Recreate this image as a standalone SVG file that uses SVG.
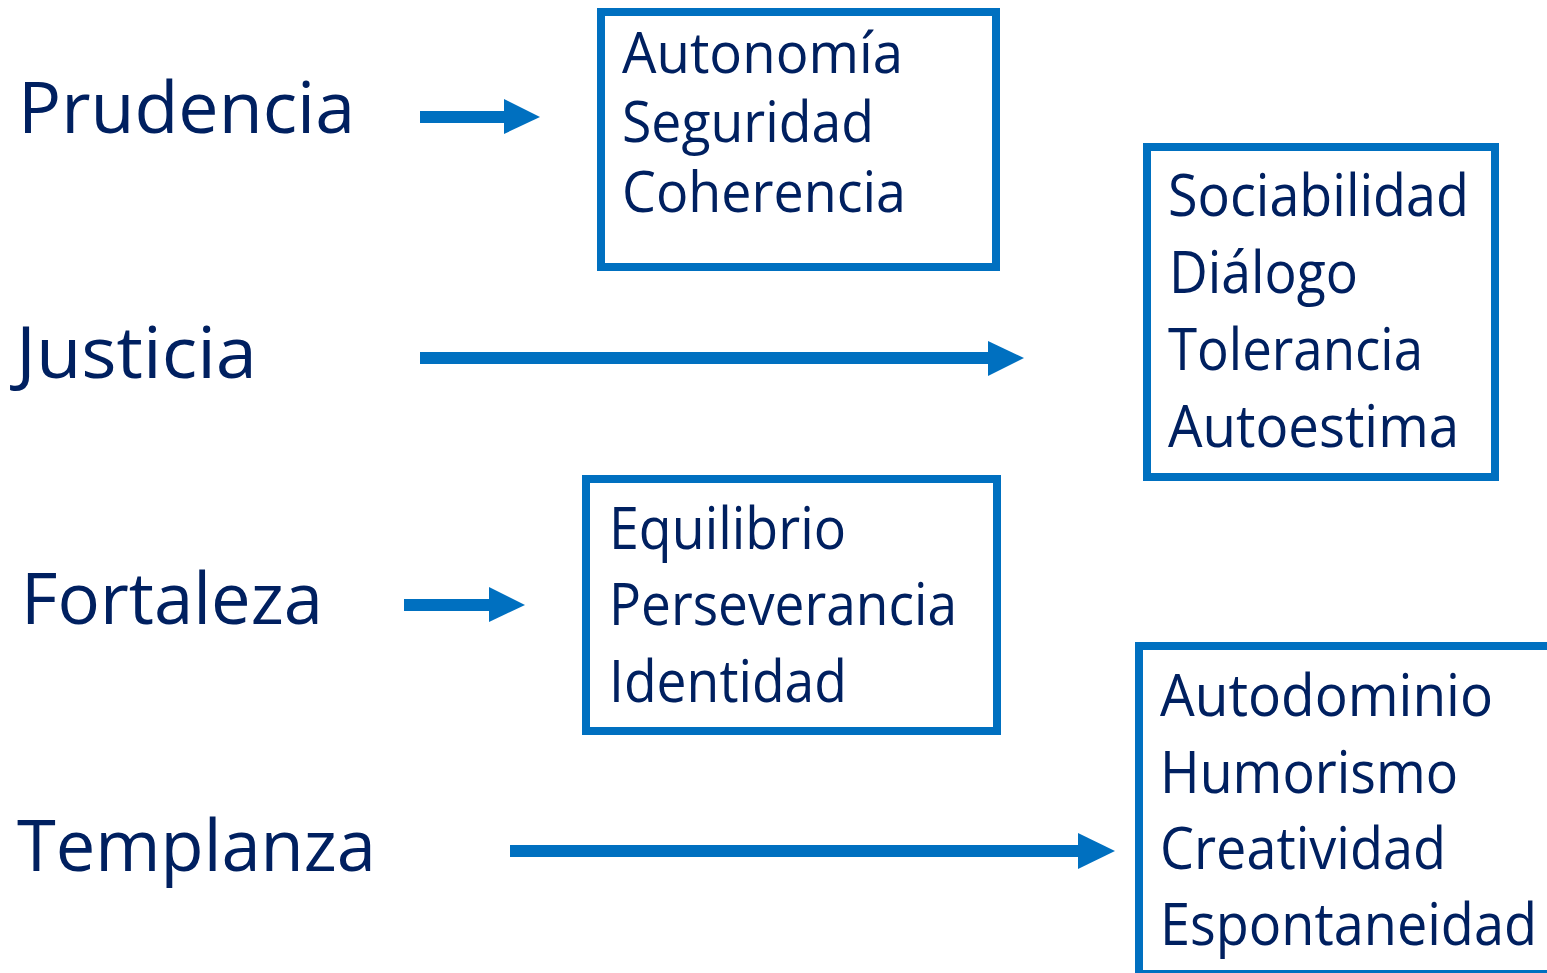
<svg xmlns="http://www.w3.org/2000/svg" width="1547" height="973" viewBox="0 0 1547 973">
<style>
  .lbl { font-family: "Open Sans", "Noto Sans", sans-serif; font-size: 71px; fill: #002060; }
  .itm { font-family: "Open Sans", "Noto Sans", sans-serif; font-size: 58px; fill: #002060; }
  .box { fill: #ffffff; stroke: #0070C0; stroke-width: 8; }
  .shaft { stroke: #0070C0; stroke-width: 12; fill: none; }
  .head { fill: #0070C0; }
</style>
<rect x="0" y="0" width="1547" height="973" fill="#ffffff"/>
<g id="prudencia"><text class="lbl" x="18" y="133" textLength="337" lengthAdjust="spacingAndGlyphs">Prudencia</text></g>
<g id="justicia"><text class="lbl" x="16" y="378" textLength="241" lengthAdjust="spacingAndGlyphs">Justicia</text></g>
<g id="fortaleza"><text class="lbl" x="21" y="624" textLength="302" lengthAdjust="spacingAndGlyphs">Fortaleza</text></g>
<g id="templanza"><text class="lbl" x="17" y="871" textLength="359" lengthAdjust="spacingAndGlyphs">Templanza</text></g>

<g id="box-prudencia">
  <rect class="box" x="601" y="12" width="395" height="255"/>
  <text class="itm" style="font-size:56px" x="622" y="73" textLength="281" lengthAdjust="spacingAndGlyphs">Autonomía</text>
  <text class="itm" style="font-size:56px" x="622" y="142" textLength="252" lengthAdjust="spacingAndGlyphs">Seguridad</text>
  <text class="itm" style="font-size:56px" x="622" y="212" textLength="284" lengthAdjust="spacingAndGlyphs">Coherencia</text>
</g>
<g id="box-justicia">
  <rect class="box" x="1147" y="147" width="348" height="330"/>
  <text class="itm" x="1168" y="216" textLength="301" lengthAdjust="spacingAndGlyphs">Sociabilidad</text>
  <text class="itm" x="1169" y="293" textLength="189" lengthAdjust="spacingAndGlyphs">Diálogo</text>
  <text class="itm" x="1168" y="370" textLength="255" lengthAdjust="spacingAndGlyphs">Tolerancia</text>
  <text class="itm" x="1168" y="447" textLength="291" lengthAdjust="spacingAndGlyphs">Autoestima</text>
</g>
<g id="box-fortaleza">
  <rect class="box" x="586" y="479" width="411" height="252"/>
  <text class="itm" x="609" y="549" textLength="237" lengthAdjust="spacingAndGlyphs">Equilibrio</text>
  <text class="itm" x="609" y="625" textLength="348" lengthAdjust="spacingAndGlyphs">Perseverancia</text>
  <text class="itm" x="609" y="702" textLength="238" lengthAdjust="spacingAndGlyphs">Identidad</text>
</g>
<g id="box-templanza">
  <rect class="box" x="1139" y="646" width="500" height="328"/>
  <text class="itm" x="1160" y="716" textLength="333" lengthAdjust="spacingAndGlyphs">Autodominio</text>
  <text class="itm" x="1160" y="793" textLength="298" lengthAdjust="spacingAndGlyphs">Humorismo</text>
  <text class="itm" x="1160" y="869" textLength="286" lengthAdjust="spacingAndGlyphs">Creatividad</text>
  <text class="itm" x="1160" y="945" textLength="377" lengthAdjust="spacingAndGlyphs">Espontaneidad</text>
</g>

<g id="connectors">
  <line class="shaft" x1="420" y1="117" x2="506" y2="117"/>
  <polygon class="head" points="504,99 540,117 504,134"/>
  <line class="shaft" x1="420" y1="358" x2="990" y2="358"/>
  <polygon class="head" points="988,341 1024,358 988,376"/>
  <line class="shaft" x1="404" y1="605" x2="491" y2="605"/>
  <polygon class="head" points="489,587 525,605 489,622"/>
  <line class="shaft" x1="510" y1="851" x2="1080" y2="851"/>
  <polygon class="head" points="1078,833 1115,851 1078,869"/>
</g>
</svg>
